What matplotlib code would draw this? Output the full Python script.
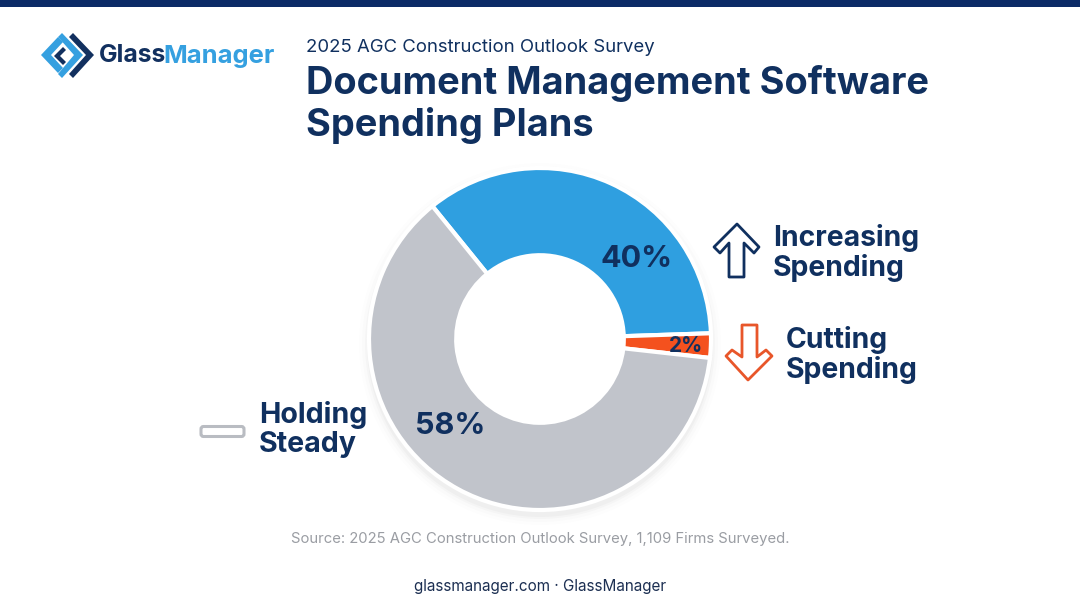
import matplotlib
matplotlib.use("Agg")
import matplotlib.pyplot as plt
from matplotlib.patches import Polygon, Circle, FancyBboxPatch, Rectangle

# arc shares as drawn in the graphic, the printed labels differ slightly
slice_names = ["Increasing Spending", "Cutting Spending", "Holding Steady"]
slice_labels = ["40%", "2%", "58%"]
arc_shares = [35.3, 2.3, 62.4]
slice_colors = ["#2f9fe0", "#f4511e", "#c1c4cb"]

navy = "#10305f"
sky = "#35a0e0"
orange = "#e8562a"

plt.rcParams["font.family"] = ["Inter", "DejaVu Sans"]

fig = plt.figure(figsize=(10.8, 6.03), dpi=100, facecolor="white")

# pixel space layer for the header, logo, icons and text
bg = fig.add_axes([0, 0, 1, 1])
bg.set_xlim(0, 1080)
bg.set_ylim(603, 0)
bg.axis("off")

bg.add_patch(Rectangle((0, 0), 1080, 7, color="#0b2a66", lw=0))

# logo mark
bg.add_patch(Polygon([(41, 55), (58, 37), (63, 42), (51, 55), (63, 68), (58, 73)], color=sky, lw=0))
bg.add_patch(Polygon([(62, 33), (83, 55), (62, 78), (58, 74), (74, 55), (58, 37)], color=sky, lw=0))
bg.add_patch(Polygon([(73, 33), (94, 55), (73, 78), (69, 74), (86, 55), (69, 37)], color="#12305f", lw=0))
bg.add_patch(Polygon([(63, 47), (54, 56), (63, 65), (66, 62), (60, 56), (66, 50)], color="#12305f", lw=0))
bg.text(99, 56, "Glass", fontsize=17.8, fontweight="bold", color="#12305f", va="center", ha="left")
bg.text(163.5, 56, "Manager", fontsize=18.4, fontweight="bold", color=sky, va="center", ha="left")

# titles
bg.text(306, 47, "2025 AGC Construction Outlook Survey", fontsize=13.35, color=navy, va="center", ha="left")
bg.text(306, 83, "Document Management Software", fontsize=27.3, fontweight="bold", color=navy, va="center", ha="left")
bg.text(306, 125, "Spending Plans", fontsize=27.3, fontweight="bold", color=navy, va="center", ha="left")

# soft shadow behind the ring
for grow, alpha in [(10, 0.008), (7, 0.012), (4, 0.018), (2, 0.025)]:
    bg.add_patch(Circle((540, 344), 171 + grow, color="black", alpha=alpha, lw=0))
bg.add_patch(Circle((540, 339), 85, color="white", lw=0))

# donut
ax = fig.add_axes([369 / 1080, (603 - 510) / 603, 342 / 1080, 342 / 603])
ax.pie(arc_shares, colors=slice_colors, startangle=129, counterclock=False, radius=1,
       wedgeprops={"width": 0.51, "edgecolor": "white", "linewidth": 3})
ax.set_xlim(-1, 1)
ax.set_ylim(-1, 1)
ax.set_aspect("equal")
ax.patch.set_alpha(0)

# value labels
lab = fig.add_axes([0, 0, 1, 1])
lab.set_xlim(0, 1080)
lab.set_ylim(603, 0)
lab.axis("off")
lab.patch.set_alpha(0)
lab.text(637, 259, slice_labels[0], fontsize=22, fontweight="bold", color=navy, va="center", ha="center")
lab.text(686, 346, slice_labels[1], fontsize=15, fontweight="bold", color=navy, va="center", ha="center")
lab.text(450, 426, slice_labels[2], fontsize=22, fontweight="bold", color=navy, va="center", ha="center")

# legend text
lab.text(773, 238, "Increasing", fontsize=20.4, fontweight="bold", color=navy, va="center", ha="left")
lab.text(773, 268, "Spending", fontsize=20.4, fontweight="bold", color=navy, va="center", ha="left")
lab.text(786, 340, "Cutting", fontsize=20.4, fontweight="bold", color=navy, va="center", ha="left")
lab.text(786, 370, "Spending", fontsize=20.4, fontweight="bold", color=navy, va="center", ha="left")
lab.text(259, 415, "Holding", fontsize=20.6, fontweight="bold", color=navy, va="center", ha="left")
lab.text(259, 445, "Steady", fontsize=20.6, fontweight="bold", color=navy, va="center", ha="left")

# legend icons
lab.add_patch(Polygon([(729, 277), (729, 243), (720, 253), (714, 247), (737, 224), (759, 247), (754, 253),
                       (744, 243), (744, 277)],
                      fill=False, edgecolor=navy, lw=2, joinstyle="round"))
lab.add_patch(Polygon([(742, 325), (742, 357), (732, 350), (726, 356), (748, 380), (772, 356), (766, 350),
                       (757, 357), (757, 325)],
                      fill=False, edgecolor=orange, lw=2, joinstyle="round"))
lab.add_patch(FancyBboxPatch((201, 426.5), 43, 10, boxstyle="round,pad=0,rounding_size=2.5",
                             fill=False, edgecolor="#b9bcc2", lw=2.2))

# footer
lab.text(540, 539, "Source: 2025 AGC Construction Outlook Survey, 1,109 Firms Surveyed.", fontsize=10.7,
         color="#9a9da3", va="center", ha="center")
lab.text(540, 586, "glassmanager.com · GlassManager", fontsize=11, color="#1c2f52", va="center", ha="center")

fig.savefig("out.png", dpi=100)
